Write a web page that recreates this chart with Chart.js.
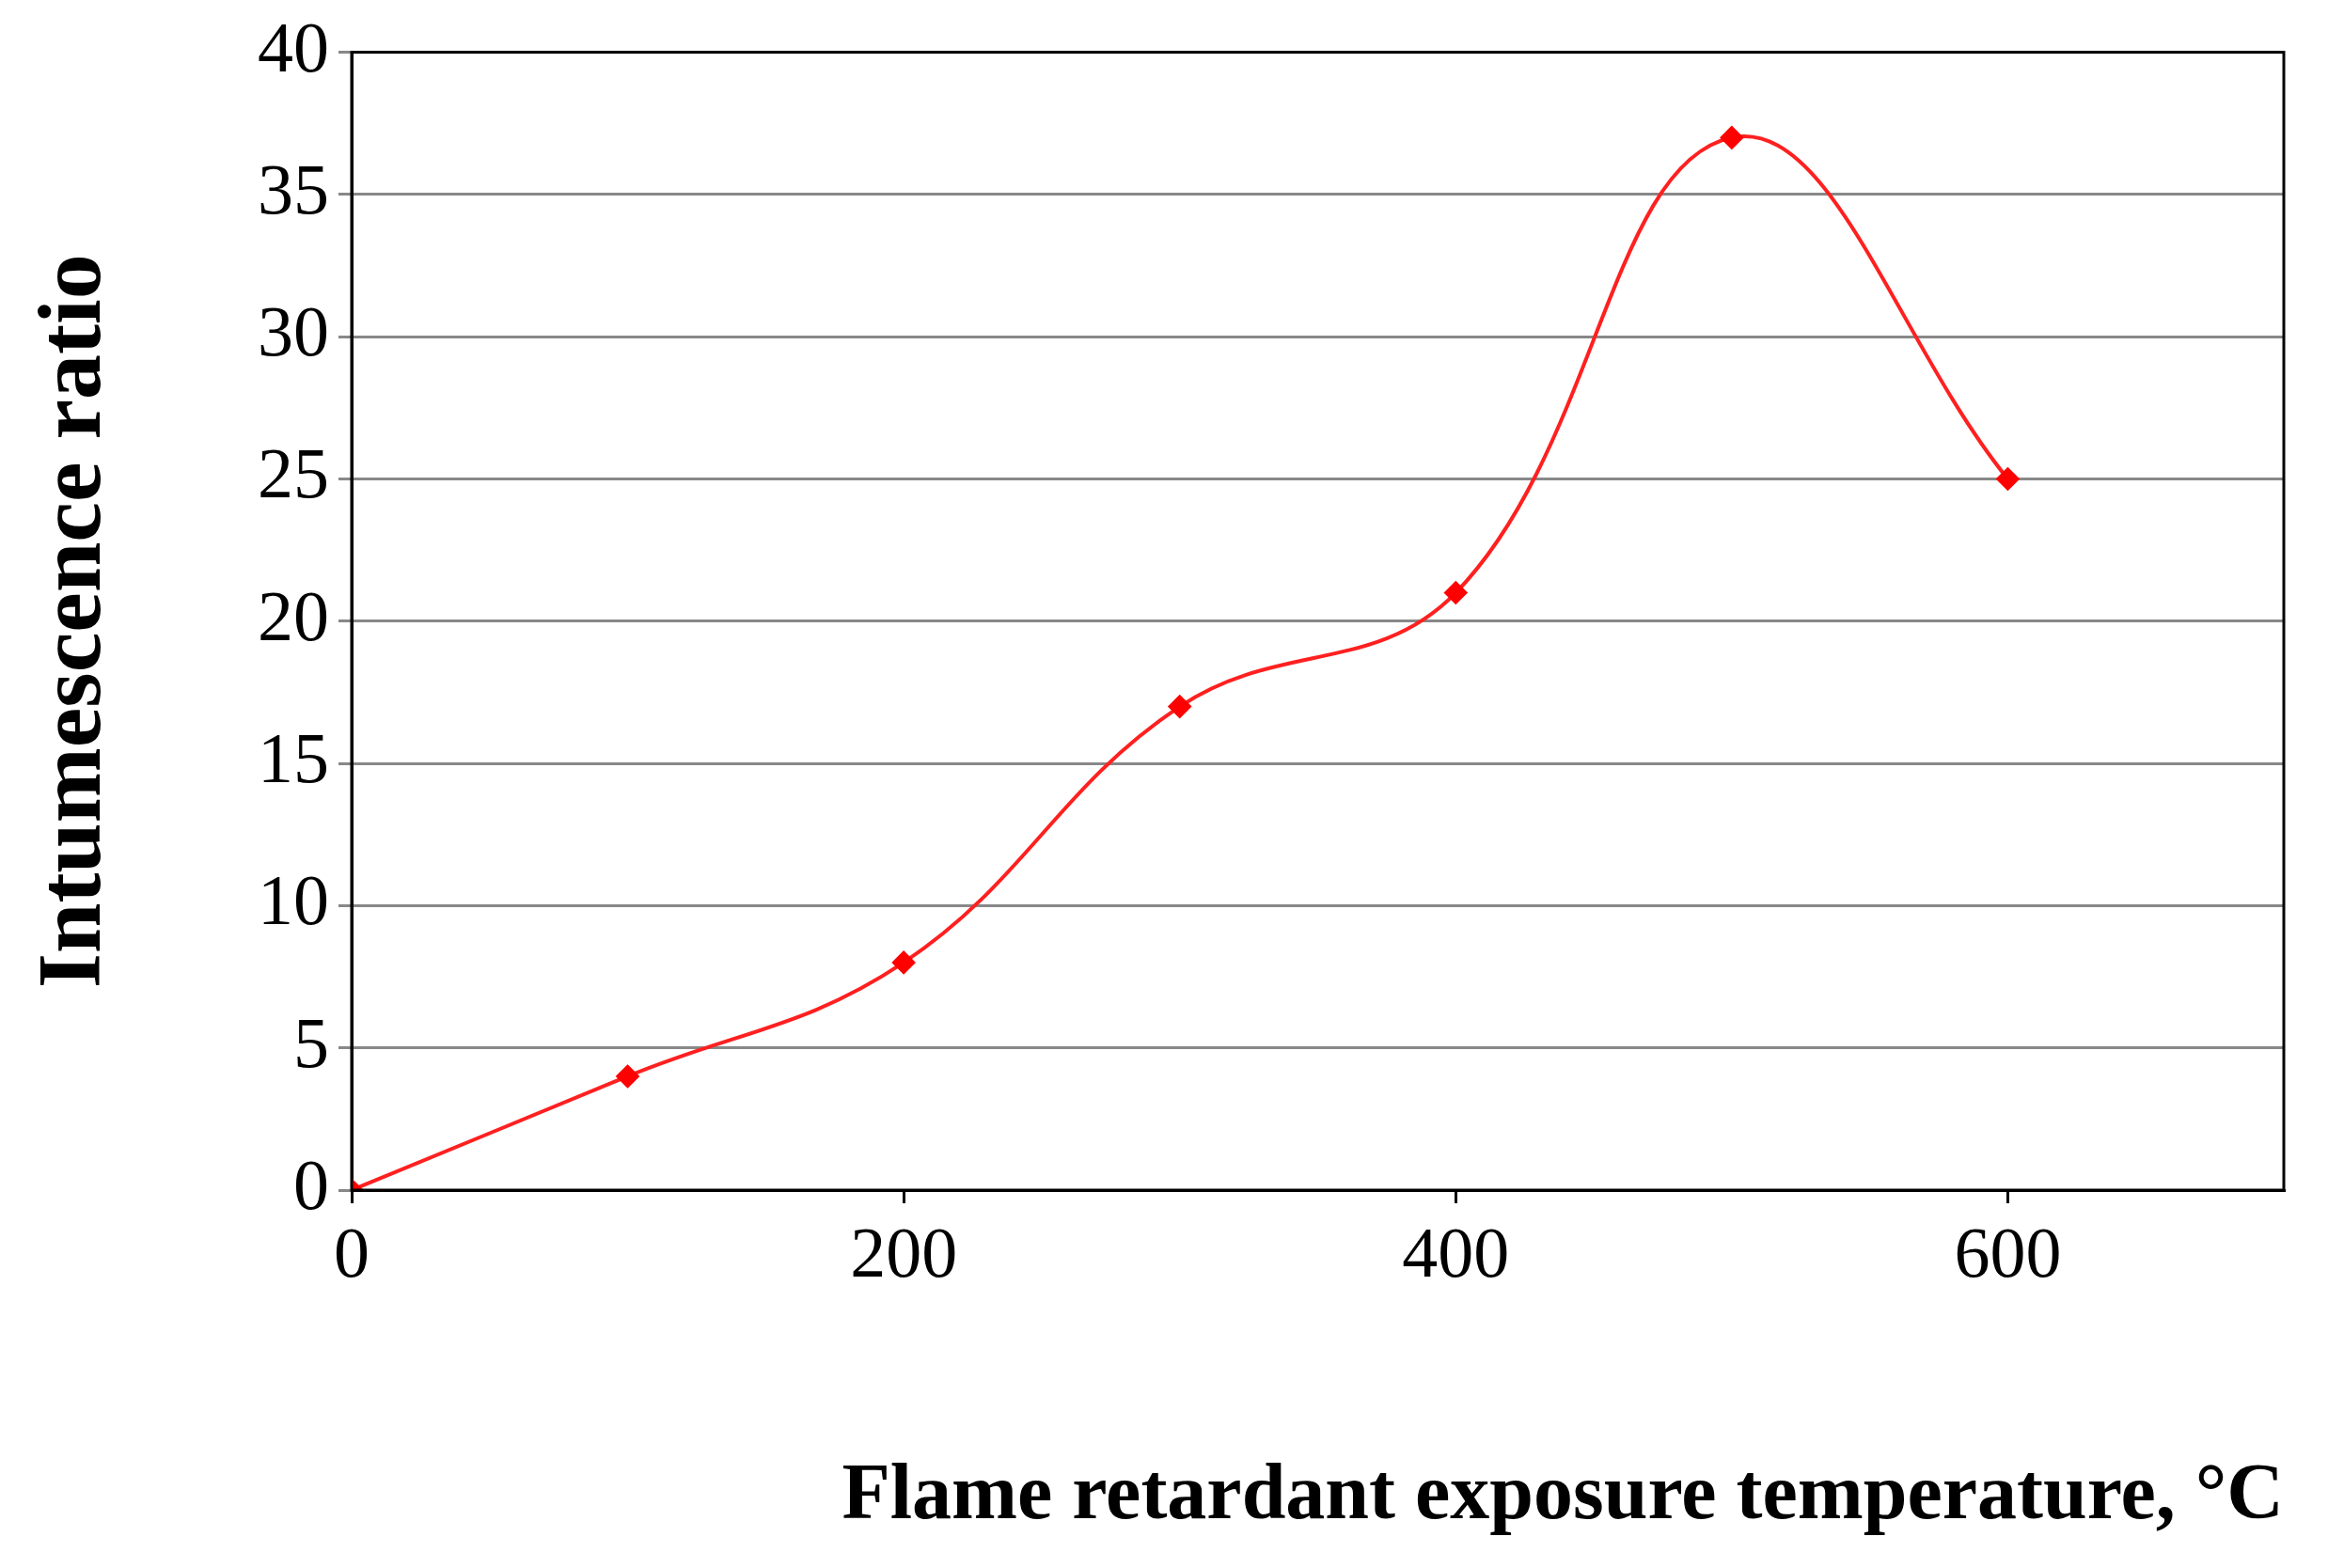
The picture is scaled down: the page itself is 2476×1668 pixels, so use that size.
<!DOCTYPE html>
<html><head><meta charset="utf-8">
<script src="https://cdn.jsdelivr.net/npm/chart.js@4"></script>
<style>html,body{margin:0;padding:0;background:#fff}canvas{display:block}</style>
</head><body>
<div style="width:2476px;height:1668px"><canvas id="c"></canvas></div>
<script>
const temperatures = [0, 100, 200, 300, 400, 500, 600];
const ratios = [0, 4, 8, 17, 21, 37, 25];
const xTicks = [0, 200, 400, 600];
const xTitle = "Flame retardant exposure temperature, \u00B0C";
const yTitle = "Intumescence ratio";

const frame = {id:'frame', afterDatasetsDraw(ch){const a=ch.chartArea,c=ch.ctx;c.save();c.strokeStyle='#000';c.lineWidth=3;c.strokeRect(a.left,a.top,a.right-a.left,a.bottom-a.top);c.restore();}};
const font = {family:'"Liberation Serif", "DejaVu Serif", serif'};
new Chart(document.getElementById('c'), {
  type:'line',
  data:{datasets:[{data:temperatures.map((t,i)=>({x:t,y:ratios[i]})),borderColor:'#ff2020',borderWidth:4,
    pointStyle:'rectRot',pointRadius:10,pointBackgroundColor:'#ff0000',pointBorderColor:'#ff0000',tension:0.4,cubicInterpolationMode:'default'}]},
  options:{responsive:true,maintainAspectRatio:false,animation:false,
    layout:{padding:{top:55,right:47,left:20,bottom:20}},
    plugins:{legend:{display:false},tooltip:{enabled:false}},
    scales:{
      x:{type:'linear',min:0,max:700,afterBuildTicks(s){s.ticks=xTicks.map(v=>({value:v}));},
        afterFit(s){s.height=1668-1266-20;},
        grid:{drawOnChartArea:false,color:'#000',tickLength:14,lineWidth:3},border:{color:'#000',width:3},
        ticks:{color:'#000',font:{...font,size:76},padding:12},
        title:{display:true,text:xTitle,align:'end',color:'#000',font:{...font,size:84,weight:'bold'},padding:{top:100}}},
      y:{min:0,max:40,afterFit(s){s.width=374-20;},
        grid:{color:'#888',lineWidth:3,tickLength:14},border:{color:'#000',width:3},
        ticks:{stepSize:5,color:'#000',font:{...font,size:76},padding:10},
        title:{display:true,text:yTitle,color:'#000',font:{...font,size:96,weight:'bold'},padding:{bottom:30}}}
    }},
  plugins:[frame]
});
</script></body></html>
